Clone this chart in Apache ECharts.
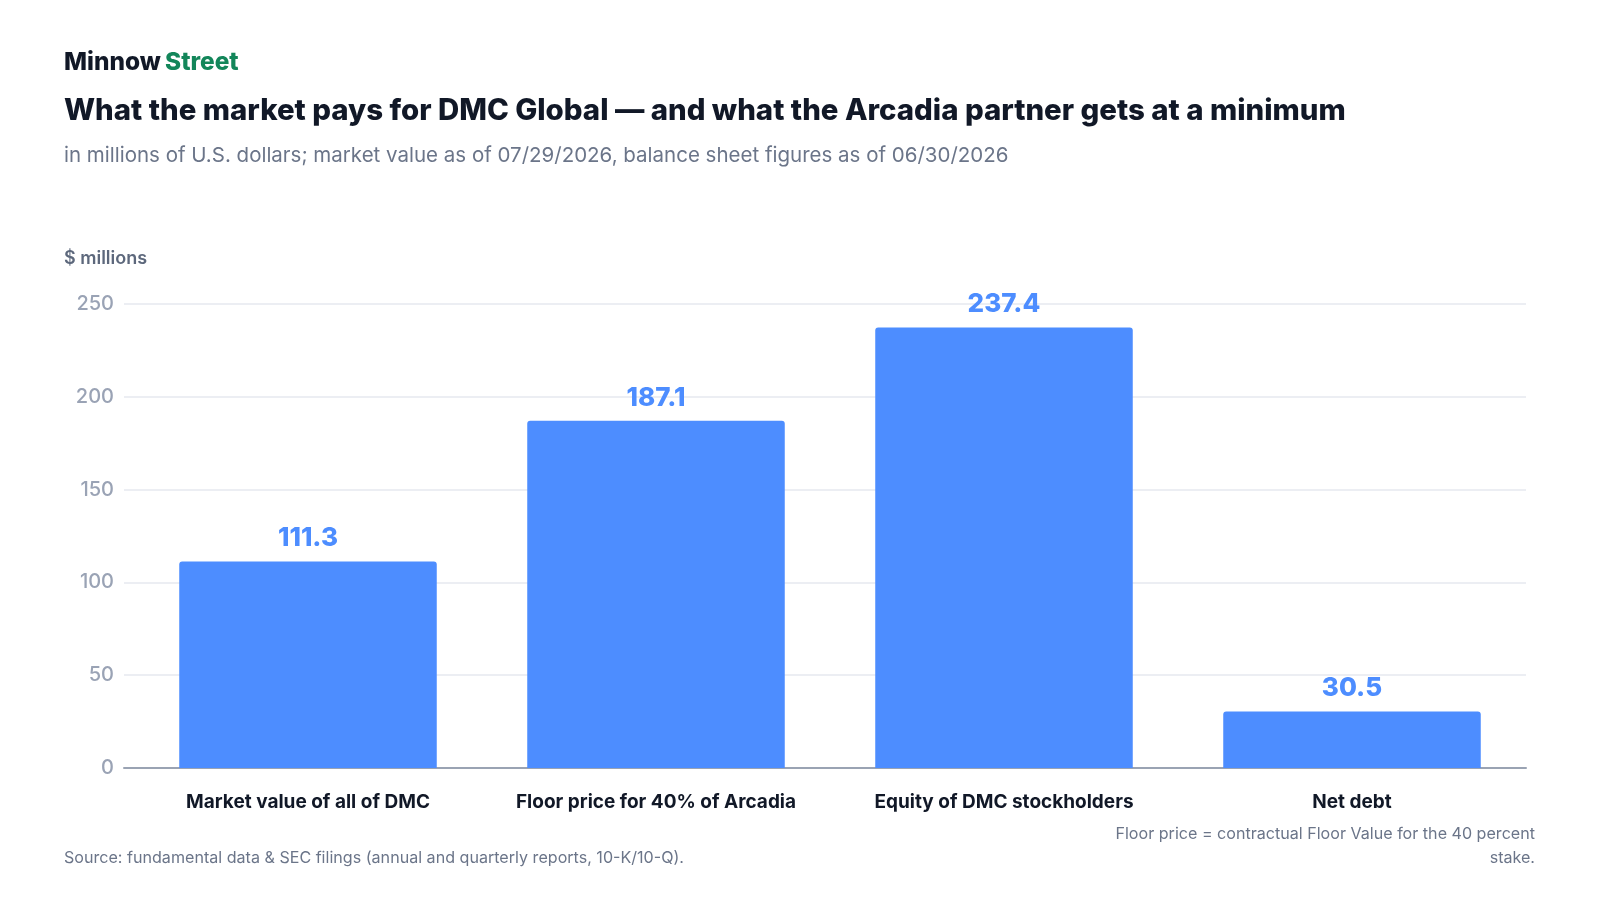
<!DOCTYPE html>
<html>
<head>
<meta charset="utf-8">
<script src="https://cdn.jsdelivr.net/npm/echarts@6/dist/echarts.min.js"></script>
<style>
html,body{margin:0;padding:0;background:#fff;}
#c{width:1600px;height:900px;}
</style>
</head>
<body>
<div id="c"></div>
<script>
const categories = ["Market value of all of DMC", "Floor price for 40% of Arcadia", "Equity of DMC stockholders", "Net debt"];
const values = [111.3, 187.1, 237.4, 30.5];
const yTicks = { min: 0, max: 250, interval: 50 };

const FONT = "Inter, 'Noto Sans', sans-serif";
const chart = echarts.init(document.getElementById('c'), null, { renderer: 'canvas' });
const GRID_TOP = 304, GRID_BOTTOM = 132, GRID_RIGHT = 74;

chart.setOption({
  backgroundColor: '#ffffff',
  animation: false,
  textStyle: { fontFamily: FONT },
  title: [
    { text: '{a|Minnow} {b|Street}', left: 64, top: 51, padding: 0,
      textStyle: { rich: {
        a: { fontFamily: FONT, fontSize: 24.4, fontWeight: 800, color: '#111827' },
        b: { fontFamily: FONT, fontSize: 24.4, fontWeight: 800, color: '#13865a' } } } },
    { text: 'What the market pays for DMC Global — and what the Arcadia partner gets at a minimum', left: 64, top: 97, padding: 0,
      textStyle: { fontFamily: FONT, fontSize: 29.4, fontWeight: 800, color: '#111827' } },
    { text: 'in millions of U.S. dollars; market value as of 07/29/2026, balance sheet figures as of 06/30/2026', left: 64, top: 145, padding: 0,
      textStyle: { fontFamily: FONT, fontSize: 20.5, fontWeight: 400, color: '#6b7589' } },
    { text: '$ millions', left: 64, top: 250, padding: 0,
      textStyle: { fontFamily: FONT, fontSize: 18, fontWeight: 600, color: '#5d687c' } },
    { text: 'Source: fundamental data & SEC filings (annual and quarterly reports, 10-K/10-Q).', left: 64, top: 850, padding: 0,
      textStyle: { fontFamily: FONT, fontSize: 16.1, fontWeight: 400, color: '#6b7589' } },
    { text: 'Floor price = contractual Floor Value for the 40 percent', right: 65, top: 826, padding: 0,
      textStyle: { fontFamily: FONT, fontSize: 16.1, fontWeight: 400, color: '#6b7589' } },
    { text: 'stake.', right: 65, top: 850, padding: 0,
      textStyle: { fontFamily: FONT, fontSize: 16.1, fontWeight: 400, color: '#6b7589' } }
  ],
  grid: [
    { left: 124, right: GRID_RIGHT, top: GRID_TOP, bottom: GRID_BOTTOM, containLabel: false },
    { left: 134, right: GRID_RIGHT, top: GRID_TOP, bottom: GRID_BOTTOM, containLabel: false }
  ],
  xAxis: [
    { type: 'category', gridIndex: 0, data: categories,
      axisLine: { show: true, lineStyle: { color: '#9aa3b3', width: 2 } },
      axisTick: { show: false }, axisLabel: { show: false }, splitLine: { show: false } },
    { type: 'category', gridIndex: 1, data: categories,
      axisLine: { show: false }, axisTick: { show: false },
      axisLabel: { show: true, interval: 0, margin: 25, fontFamily: FONT, fontSize: 19, fontWeight: 700, color: '#111827' } }
  ],
  yAxis: [
    { type: 'value', gridIndex: 0, min: yTicks.min, max: yTicks.max, interval: yTicks.interval,
      axisLine: { show: false }, axisTick: { show: false },
      axisLabel: { margin: 10, fontFamily: FONT, fontSize: 20, fontWeight: 500, color: '#9aa3b5' },
      splitLine: { show: true, lineStyle: { color: '#e6e9ef', width: 1.5 } } },
    { type: 'value', gridIndex: 1, min: yTicks.min, max: yTicks.max, interval: yTicks.interval,
      show: false, splitLine: { show: false } }
  ],
  series: [
    { type: 'bar', xAxisIndex: 1, yAxisIndex: 1, data: values, barCategoryGap: '26%',
      itemStyle: { color: '#4d8dff', borderRadius: [3, 3, 0, 0] },
      label: { show: true, position: 'top', distance: 10, fontFamily: FONT, fontSize: 26, fontWeight: 800, color: '#4d8dff',
        formatter: p => p.value.toFixed(1) } }
  ]
});
</script>
</body>
</html>
